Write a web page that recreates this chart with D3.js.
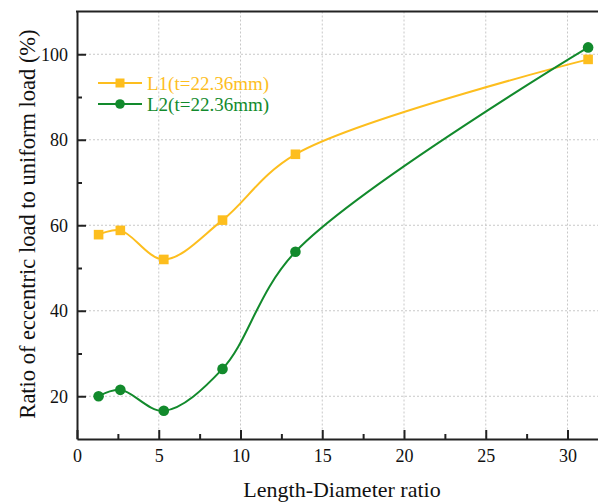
<!DOCTYPE html>
<html>
<head>
<meta charset="utf-8">
<script src="https://cdn.jsdelivr.net/npm/d3@7"></script>
<style>
  html, body { margin: 0; padding: 0; background: #fff; }
  svg { display: block; }
  svg text { font-family: "Times New Roman", "Liberation Serif", "DejaVu Serif", serif; }
</style>
</head>
<body>
<svg id="chart" width="598" height="502"></svg>
<script>
// --- data ---
const ratios = [1.32, 2.65, 5.31, 8.9, 13.36, 31.26];
const l1Values = [57.8, 58.8, 52.0, 61.2, 76.6, 98.8];
const l2Values = [20.0, 21.5, 16.6, 26.4, 53.8, 101.6];
const xTicks = [0, 5, 10, 15, 20, 25, 30];
const xMinorTicks = [2.5, 7.5, 12.5, 17.5, 22.5, 27.5];
const yTicks = [20, 40, 60, 80, 100];
const yMinorTicks = [30, 50, 70, 90];
const seriesNames = ["L1(t=22.36mm)", "L2(t=22.36mm)"];

const orange = "#FDBE1E";
const green = "#128A2C";
const axisColor = "#222";
const serif = "'Times New Roman', 'Liberation Serif', 'DejaVu Serif', serif";

const svg = d3.select("#chart");

// plot frame (right side runs past the picture edge, as in the source)
const plotLeft = 77, plotTop = 11.5, plotBottom = 439;
const x = d3.scaleLinear().domain([0, 33]).range([plotLeft, plotLeft + 33 * 16.35]);
const y = d3.scaleLinear().domain([10, 110]).range([plotBottom, plotTop]);

// dotted grid
const grid = svg.append("g").attr("stroke", "#c8c8c8").attr("stroke-width", 1).attr("stroke-dasharray", "2,2");
grid.selectAll(".gx").data(xTicks.filter(d => d > 0)).join("line")
    .attr("x1", d => x(d)).attr("x2", d => x(d)).attr("y1", plotTop).attr("y2", plotBottom);
grid.selectAll(".gy").data(yTicks).join("line")
    .attr("x1", plotLeft).attr("x2", 598).attr("y1", d => y(d)).attr("y2", d => y(d));

// axes
const styleAxis = g => {
    g.attr("font-family", serif);
    g.select(".domain").attr("stroke", axisColor).attr("stroke-width", 2);
    g.selectAll(".tick line").attr("stroke", axisColor).attr("stroke-width", 2);
    g.selectAll(".tick text").attr("fill", "#111").style("font-size", "18px");
};

svg.append("g").attr("transform", `translate(0,${plotBottom})`)
    .call(d3.axisBottom(x).tickValues(xTicks).tickSizeInner(-9).tickSizeOuter(0).tickPadding(10))
    .call(styleAxis);
svg.append("g").attr("transform", `translate(0,${plotBottom})`)
    .call(d3.axisBottom(x).tickValues(xMinorTicks).tickSizeInner(-5).tickSizeOuter(0).tickFormat(""))
    .call(styleAxis).select(".domain").remove();

svg.append("g").attr("transform", `translate(${plotLeft},0)`)
    .call(d3.axisLeft(y).tickValues(yTicks).tickSizeInner(-9).tickSizeOuter(0).tickPadding(9))
    .call(styleAxis);
svg.append("g").attr("transform", `translate(${plotLeft},0)`)
    .call(d3.axisLeft(y).tickValues(yMinorTicks).tickSizeInner(-5).tickSizeOuter(0).tickFormat(""))
    .call(styleAxis).select(".domain").remove();

// top border
svg.append("line").attr("x1", plotLeft - 1).attr("x2", 598).attr("y1", plotTop).attr("y2", plotTop)
    .attr("stroke", axisColor).attr("stroke-width", 2);

// series
const line = d3.line().x(d => x(d[0])).y(d => y(d[1])).curve(d3.curveCatmullRom.alpha(0.5));
const l1 = ratios.map((r, i) => [r, l1Values[i]]);
const l2 = ratios.map((r, i) => [r, l2Values[i]]);

svg.append("path").datum(l1).attr("fill", "none").attr("stroke", orange).attr("stroke-width", 2).attr("d", line);
svg.append("path").datum(l2).attr("fill", "none").attr("stroke", green).attr("stroke-width", 2).attr("d", line);

svg.append("g").selectAll("rect").data(l1).join("rect")
    .attr("x", d => x(d[0]) - 4.8).attr("y", d => y(d[1]) - 4.8)
    .attr("width", 9.6).attr("height", 9.6).attr("fill", orange);
svg.append("g").selectAll("circle").data(l2).join("circle")
    .attr("cx", d => x(d[0])).attr("cy", d => y(d[1])).attr("r", 5.3).attr("fill", green);

// legend
const legend = svg.append("g").style("font-size", "19px");
[[orange, 83], [green, 104]].forEach(([c, ly], i) => {
    legend.append("line").attr("x1", 98).attr("x2", 142).attr("y1", ly).attr("y2", ly)
        .attr("stroke", c).attr("stroke-width", 2);
    if (i === 0) {
        legend.append("rect").attr("x", 115.5).attr("y", ly - 4.5).attr("width", 9).attr("height", 9).attr("fill", c);
    } else {
        legend.append("circle").attr("cx", 120).attr("cy", ly).attr("r", 4.8).attr("fill", c);
    }
    legend.append("text").attr("x", 147).attr("y", ly).attr("dy", "0.35em")
        .attr("fill", c).text(seriesNames[i]);
});

// axis titles
svg.append("text").attr("x", 342).attr("y", 497).attr("text-anchor", "middle")
    .style("font-size", "22px").attr("fill", "#111").text("Length-Diameter ratio");
svg.append("text").attr("transform", "translate(35,224) rotate(-90)").attr("text-anchor", "middle")
    .style("font-size", "22.5px").attr("fill", "#111").text("Ratio of eccentric load to uniform load (%)");
</script>
</body>
</html>
